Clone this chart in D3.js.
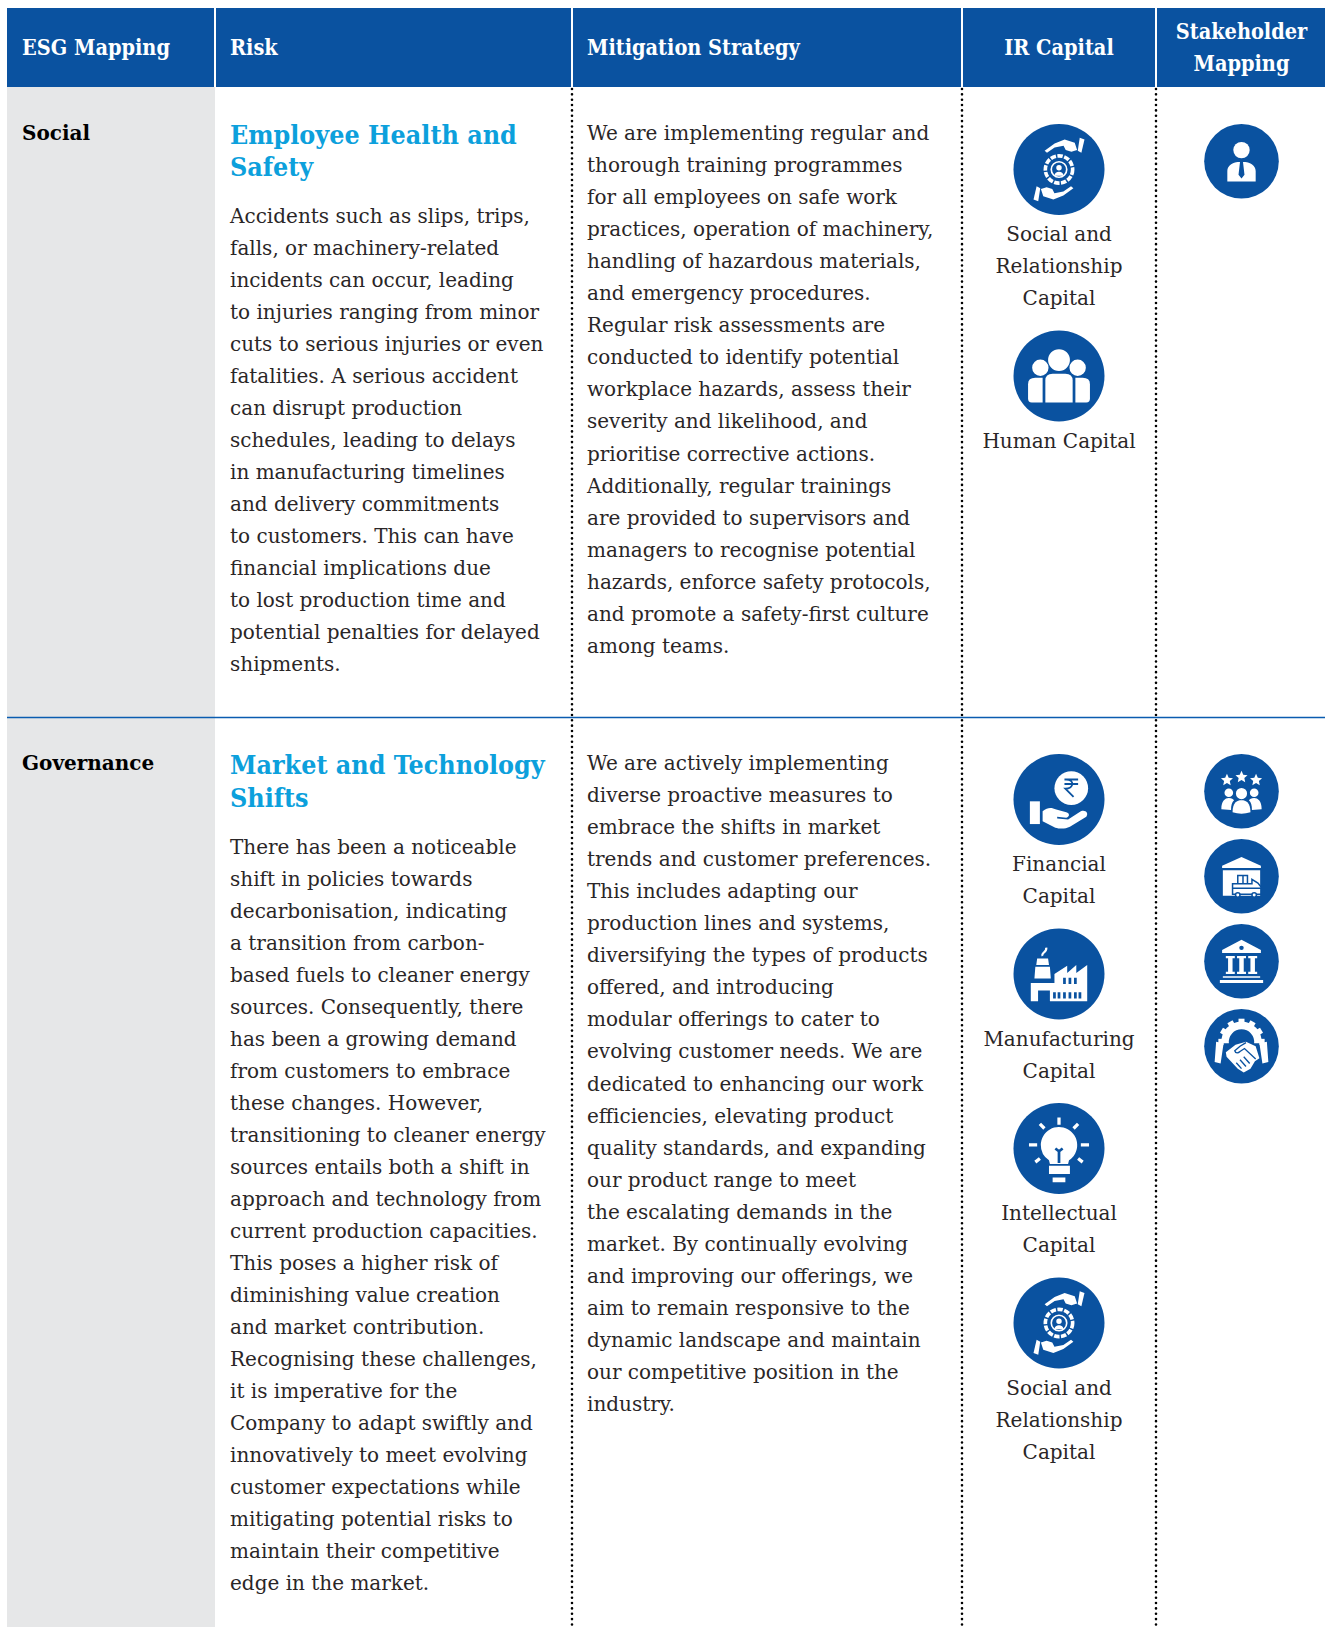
<!DOCTYPE html>
<html>
<head>
<meta charset="utf-8">
<script src="https://cdn.jsdelivr.net/npm/d3@7"></script>
<style>
  html, body { margin: 0; padding: 0; background: #fff; }
  svg { display: block; }
</style>
</head>
<body>
<div id="chart"></div>
<script>
// table content
const headers = [
    { col: 0, lines: ["ESG Mapping"], anchor: "start" },
    { col: 1, lines: ["Risk"], anchor: "start" },
    { col: 2, lines: ["Mitigation Strategy"], anchor: "start" },
    { col: 3, lines: ["IR Capital"], anchor: "middle" },
    { col: 4, lines: ["Stakeholder", "Mapping"], anchor: "middle" }
];
const esgLabels = ["Social", "Governance"];
const riskTitles = [
    ["Employee Health and", "Safety"],
    ["Market and Technology", "Shifts"]
];
const riskBodies = [
    ["Accidents such as slips, trips,", "falls, or machinery-related", "incidents can occur, leading", "to injuries ranging from minor",
     "cuts to serious injuries or even", "fatalities. A serious accident", "can disrupt production", "schedules, leading to delays",
     "in manufacturing timelines", "and delivery commitments", "to customers. This can have", "financial implications due",
     "to lost production time and", "potential penalties for delayed", "shipments."],
    ["There has been a noticeable", "shift in policies towards", "decarbonisation, indicating", "a transition from carbon-",
     "based fuels to cleaner energy", "sources. Consequently, there", "has been a growing demand", "from customers to embrace",
     "these changes. However,", "transitioning to cleaner energy", "sources entails both a shift in", "approach and technology from",
     "current production capacities.", "This poses a higher risk of", "diminishing value creation", "and market contribution.",
     "Recognising these challenges,", "it is imperative for the", "Company to adapt swiftly and", "innovatively to meet evolving",
     "customer expectations while", "mitigating potential risks to", "maintain their competitive", "edge in the market."]
];
const mitigations = [
    ["We are implementing regular and", "thorough training programmes", "for all employees on safe work", "practices, operation of machinery,",
     "handling of hazardous materials,", "and emergency procedures.", "Regular risk assessments are", "conducted to identify potential",
     "workplace hazards, assess their", "severity and likelihood, and", "prioritise corrective actions.", "Additionally, regular trainings",
     "are provided to supervisors and", "managers to recognise potential", "hazards, enforce safety protocols,", "and promote a safety-first culture",
     "among teams."],
    ["We are actively implementing", "diverse proactive measures to", "embrace the shifts in market", "trends and customer preferences.",
     "This includes adapting our", "production lines and systems,", "diversifying the types of products", "offered, and introducing",
     "modular offerings to cater to", "evolving customer needs. We are", "dedicated to enhancing our work", "efficiencies, elevating product",
     "quality standards, and expanding", "our product range to meet", "the escalating demands in the", "market. By continually evolving",
     "and improving our offerings, we", "aim to remain responsive to the", "dynamic landscape and maintain", "our competitive position in the",
     "industry."]
];
const irCapitals = [
    [
        { icon: "social", lines: ["Social and", "Relationship", "Capital"] },
        { icon: "human", lines: ["Human Capital"] }
    ],
    [
        { icon: "financial", lines: ["Financial", "Capital"] },
        { icon: "manufacturing", lines: ["Manufacturing", "Capital"] },
        { icon: "intellectual", lines: ["Intellectual", "Capital"] },
        { icon: "social", lines: ["Social and", "Relationship", "Capital"] }
    ]
];
const stakeholders = [
    ["employee"],
    ["community", "supplier", "government", "partner"]
];

const width = 1325;
const height = 1627;
const blue = "#0a52a0";
const ink = "#2a2627";
const serif = "'DejaVu Serif', serif";
const serifNarrow = "'DejaVu Serif Condensed', 'DejaVu Serif', serif";

// column edges
const colX = [7, 215, 572, 962, 1156, 1325];
const rowY = [87, 717];
const lineH = 32;

const svg = d3.select("#chart").append("svg").attr("width", width).attr("height", height);

svg.append("rect").attr("width", width).attr("height", height).attr("fill", "#fff");
svg.append("rect").attr("x", colX[0]).attr("y", rowY[0]).attr("width", colX[1] - colX[0]).attr("height", height - rowY[0]).attr("fill", "#e6e7e8");
svg.append("rect").attr("x", colX[0]).attr("y", 8).attr("width", width - colX[0]).attr("height", rowY[0] - 8).attr("fill", blue);

// separators
svg.selectAll(".sep").data(colX.slice(1, 5)).enter().append("line")
    .attr("x1", d => d).attr("x2", d => d)
    .attr("y1", 8).attr("y2", rowY[0])
    .attr("stroke", "#fff").attr("stroke-width", 2);

svg.selectAll(".dots").data(colX.slice(2, 5)).enter().append("line")
    .attr("x1", d => d).attr("x2", d => d)
    .attr("y1", rowY[0] + 2).attr("y2", height)
    .attr("stroke", "#000").attr("stroke-width", 2.6)
    .attr("stroke-linecap", "round").attr("stroke-dasharray", "0 5.35");

svg.append("line").attr("x1", colX[0]).attr("x2", width).attr("y1", rowY[1] + 0.5).attr("y2", rowY[1] + 0.5)
    .attr("stroke", "#0a5cb0").attr("stroke-width", 1.3);

function textBlock(lines, x, y, opts) {
    svg.append("g").selectAll("text").data(lines).enter().append("text")
        .attr("x", x)
        .attr("y", (d, i) => y + i * (opts.step || lineH))
        .attr("text-anchor", opts.anchor || "start")
        .attr("font-family", opts.family || serif)
        .attr("font-size", opts.size)
        .attr("font-weight", opts.weight || 400)
        .attr("fill", opts.fill || ink)
        .text(d => d);
}

// header
headers.forEach(h => {
    const many = h.lines.length > 1;
    const x = h.anchor === "middle" ? (colX[h.col] + colX[h.col + 1]) / 2 + (many ? 1 : 0) : colX[h.col] + 15;
    textBlock(h.lines, x, many ? 39 : 55, { size: 21.5, weight: 700, fill: "#fff", anchor: h.anchor, step: 32, family: serifNarrow });
});

// icon drawing, all in a box centred on 0,0 with radius 50
function shape(g, d, fill) {
    return g.append("path").attr("d", d).attr("fill", fill || "#fff").attr("fill-rule", "evenodd");
}
function ring(cx, cy, r) {
    return `M${cx - r},${cy}a${r},${r} 0 1,0 ${2 * r},0a${r},${r} 0 1,0 ${-2 * r},0Z`;
}
const icons = {
    social(g) {
        const hand = "M-15.8,-20.6 L-4.8,-28.7 L6.2,-33 L17.3,-29.4 L19.9,-21.3 L13.6,-19.5 L7.4,-21.3 L5,-26 L-4.8,-24.3 L-13.2,-18.4Z";
        const cuff = "M22.8,-35 L28,-33 L24.6,-18.4 L20.6,-20.6Z";
        shape(g, hand);
        shape(g, cuff);
        const low = g.append("g").attr("transform", "rotate(180)");
        shape(low, hand);
        shape(low, cuff);
        g.append("circle").attr("r", 15).attr("fill", "none").attr("stroke", "#fff").attr("stroke-width", 4).attr("stroke-dasharray", "6 1.6");
        g.append("circle").attr("r", 8.5).attr("fill", "none").attr("stroke", "#fff").attr("stroke-width", 1.8);
        shape(g, ring(0, -2, 3) + "M-5,7 C-5,1 5,1 5,7Z");
    },
    human(g) {
        shape(g, ring(0, -17.5, 12) + ring(-20.5, -9, 9) + ring(20.5, -9, 9));
        shape(g, "M-15,29 L-15,5 Q-15,-2.5 -7,-2.5 L7,-2.5 Q15,-2.5 15,5 L15,29Z");
        shape(g, "M-18,29 L-30,29 Q-34,29 -34,25 L-34,9 Q-34,2 -26,2 L-18,2Z");
        shape(g, "M18,29 L30,29 Q34,29 34,25 L34,9 Q34,2 26,2 L18,2Z");
    },
    financial(g) {
        shape(g, ring(13.5, -12.5, 18.5));
        g.append("path").attr("d", "M6,-22 H21 M6,-17 H21 M8,-22 C17,-22 17,-12 7,-12 L16,-3")
            .attr("fill", "none").attr("stroke", blue).attr("stroke-width", 2);
        shape(g, "M-32,2 H-21 V27 H-32Z");
        shape(g, "M-18,13 C-12,8 -8,9 -3,11 L8,14 C12,15 12,19 8,20 L-2,19 L-2,21 L10,22 L24,13 C29,11 33,15 30,19 L12,30 C6,33 0,32 -4,31 L-18,24Z");
    },
    manufacturing(g) {
        shape(g, "M-31,30 V10 H-5 V-0 L-5,-0 L9,-9 V-1 L19,-10 V-1 L31,-10 V30 H-10 V18 H-23 V30Z");
        g.append("path").attr("d", "M6,4 V11 M12,4 V11 M18,4 V11 M-5,20 V27 M0,20 V27 M6,20 V27 M12,20 V27 M18,20 V27 M23,20 V27")
            .attr("stroke", blue).attr("stroke-width", 3).attr("fill", "none");
        shape(g, "M-24,-17 H-12 L-11,-10 H-25Z M-26,-8 H-10 L-9,5 H-27Z");
        g.append("path").attr("d", "M-18,-20 C-20,-23 -13,-24 -14,-29").attr("stroke", "#fff").attr("stroke-width", 2.4).attr("fill", "none");
    },
    intellectual(g) {
        shape(g, "M-20,-4 A20,20 0 1,1 11,13 L10,17 H-10 L-11,13 A20,20 0 0,1 -20,-4Z");
        g.append("path").attr("d", "M0,16 V3 M-4,0 L0,3 L4,0").attr("stroke", blue).attr("stroke-width", 3).attr("fill", "none");
        shape(g, "M-11,19 H12 V28 H-11Z M-7,32 H7 V37 H-7Z");
        g.append("path").attr("d", "M0,-34 V-26 M-21,-27 L-16,-22 M21,-27 L16,-22 M-33,-4 H-24 M33,-4 H24 M-26,15 L-21,11 M26,15 L21,11")
            .attr("stroke", "#fff").attr("stroke-width", 3.6).attr("fill", "none");
    },
    employee(g) {
        shape(g, ring(0, -15, 11));
        shape(g, "M-19,27 V13 C-19,5 -11,2 -5,1 L-2,1 L-4,18 L0,23 L4,18 L2,1 L5,1 C11,2 19,5 19,13 V27Z");
    },
    community(g) {
        [-19.5, 0, 19.5].forEach((cx, i) => {
            const cy = i === 1 ? -19 : -15;
            const pts = d3.range(10).map(k => {
                const r = k % 2 ? 4 : 8.5;
                const a = k * Math.PI / 5 - Math.PI / 2;
                return [cx + r * Math.cos(a), cy + r * Math.sin(a)];
            });
            shape(g, "M" + pts.join("L") + "Z");
        });
        shape(g, ring(0, 3, 7.5) + ring(-17, 2, 5.8) + ring(17, 2, 5.8));
        shape(g, "M-12,28 C-12,15 -6,12 0,12 C6,12 12,15 12,28 Q0,32 -12,28Z");
        shape(g, "M-27,24 C-27,13 -22,9 -17,9 C-13,9 -11,11 -10,12 C-13,15 -14,19 -14,25Z");
        shape(g, "M27,24 C27,13 22,9 17,9 C13,9 11,11 10,12 C13,15 14,19 14,25Z");
    },
    supplier(g) {
        shape(g, "M0,-26 L26,-14 V-11 H-26 V-14Z");
        shape(g, "M-25,-8 H25 V26 H-25Z");
        g.append("path").attr("d", "M-12,21 V10 H14 V4 L22,9 L26,14 V24 H-12Z M-5,10 V-1 H8 V10 M2,10 V-1 M-12,16 H26")
            .attr("fill", "#fff").attr("stroke", blue).attr("stroke-width", 2);
        g.append("path").attr("d", ring(-5, 25, 3) + ring(17, 25, 3)).attr("fill", "#fff").attr("stroke", blue).attr("stroke-width", 2);
    },
    government(g) {
        shape(g, "M0,-29 L26,-15 V-11 H-26 V-15Z" + ring(0, -18, 3));
        shape(g, "M-21,-7 H-9 V-4 H-12 V14 H-9 V17 H-21 V14 H-18 V-4 H-21Z M-6,-7 H6 V-4 H3 V14 H6 V17 H-6 V14 H-3 V-4 H-6Z M9,-7 H21 V-4 H18 V14 H21 V17 H9 V14 H12 V-4 H9Z");
        shape(g, "M-25,20 H25 V22 H-25Z M-29,25 H29 V29 H-29Z");
    },
    partner(g) {
        // gear, cut off above the handshake
        d3.range(7).forEach(k => {
            g.append("rect").attr("x", -4).attr("y", -31).attr("width", 8).attr("height", 7).attr("fill", "#fff")
                .attr("transform", `translate(0,-6) rotate(${(k - 3) * 30})`);
        });
        shape(g, "M-26.9,-4 A27,27 0 1,1 26.9,-4 L16.9,-4 A17,17 0 1,0 -16.9,-4Z");
        shape(g, "M-34,-6 L-24,-4 L-28,23 L-36,21Z M34,-6 L24,-4 L28,23 L36,21Z");
        shape(g, "M-21,8 L-8,-2 L6,-6 L19,0 L24,16 L18,20 L12,30 L3,35 L-5,30 L-20,14Z");
        g.append("path").attr("d", "M6,-5 L-2,0 L-9,6 C-8,10 -4,9 -2,7 L4,3 L19,17 M3,14 L11,23 M-2,18 L6,27 M-7,22 L0,30")
            .attr("fill", "none").attr("stroke", blue).attr("stroke-width", 1.8);
    }
};

function drawIcon(name, cx, cy, r) {
    const g = svg.append("g").attr("transform", `translate(${cx},${cy}) scale(${r / 50})`);
    g.append("circle").attr("r", 50).attr("fill", blue);
    icons[name](g);
}

// rows
esgLabels.forEach((label, i) => {
    const top = rowY[i];
    textBlock([label], colX[0] + 15, top + 53, { size: 20, weight: 700, fill: "#000" });

    const titleY = top + 57;
    textBlock(riskTitles[i], colX[1] + 15, titleY, { size: 26.6, weight: 700, fill: "#0ca0dc", family: serifNarrow, step: i ? 33 : 32 });
    textBlock(riskBodies[i], colX[1] + 15, titleY + lineH + 47 + i, { size: 20 });
    textBlock(mitigations[i], colX[2] + 15, top + 53, { size: 20, step: 32.05 });

    // IR capital stack
    const irCx = (colX[3] + colX[4]) / 2;
    const irR = 45.5;
    let y = top + 37;
    irCapitals[i].forEach(c => {
        drawIcon(c.icon, irCx, y + irR, irR);
        const first = y + 2 * irR + 26;
        textBlock(c.lines, irCx, first, { size: 20, anchor: "middle" });
        y = first + (c.lines.length - 1) * lineH + 25.5;
    });

    // stakeholder stack
    const shCx = (colX[4] + colX[5]) / 2 + 1;
    const shR = 37.3;
    stakeholders[i].forEach((name, k) => {
        drawIcon(name, shCx, top + 37 + shR + k * 85, shR);
    });
});
</script>
</body>
</html>
